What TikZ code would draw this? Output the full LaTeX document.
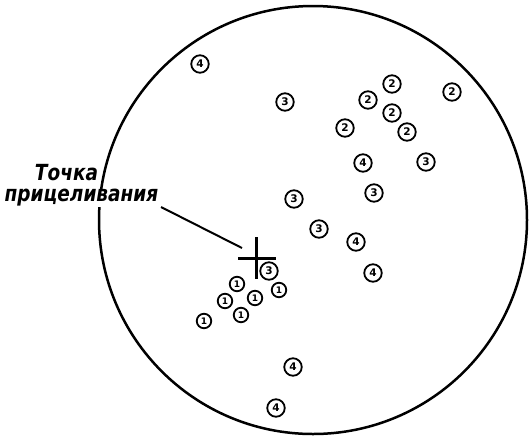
\documentclass[tikz,border=0pt]{standalone}
\usepackage{fontspec}
\newfontfamily\labfont{DejaVu Sans}
\newfontfamily\digfont{DejaVu Sans}
\tikzset{
  mk/.style={circle, draw, line width=1.8pt, minimum size=17.5pt, inner sep=0pt,
    font=\digfont\bfseries\fontsize{10.5}{10.5}\selectfont},
  mkone/.style={mk, minimum size=14.5pt, font=\digfont\bfseries\fontsize{9}{9}\selectfont},
  lab/.style={inner sep=0pt, font=\labfont\bfseries\itshape\fontsize{18.5}{20}\selectfont},
  rim/.style={line width=2.5pt},
  thin/.style={line width=2pt},
  crossline/.style={line width=3pt}
}
\begin{document}
\begin{tikzpicture}[x=1pt,y=-1pt]
\useasboundingbox (0,0) rectangle (532,445);
% target outline
\node[circle, draw, rim, minimum size=428pt, inner sep=0pt] (target) at (313,220) {};
% label
\node[lab] (l1) at (66.5,173) {\scalebox{1}[1.2]{Точка}};
\node[lab, fill=white] (l2) at (81.5,198) {\scalebox{1}[1.2]{прицеливания}};
% aiming point cross
\coordinate (aim) at (256,258);
\coordinate (vtop) at (256,237);
\coordinate (vbot) at (256,279);
\coordinate (hl) at (238,258);
\coordinate (hr) at (276,258);
\draw[crossline] (vtop) -- (vbot);
\draw[crossline] (hl) -- (hr);
\coordinate (lstart) at (161,207);
\coordinate (lend) at (242,248);
\draw[thin] (lstart) -- (lend);
% impacts
\node[mk] (a1) at (200,64) {4};
\node[mk] (a2) at (285,102) {3};
\node[mk] (a3) at (392,84) {2};
\node[mk] (a4) at (452,92) {2};
\node[mk] (a5) at (368,100) {2};
\node[mk] (a6) at (392,113) {2};
\node[mk] (a7) at (345,128) {2};
\node[mk] (a8) at (407,132) {2};
\node[mk] (a9) at (363,163) {4};
\node[mk] (a10) at (426,162) {3};
\node[mk] (a11) at (374,193) {3};
\node[mk] (a12) at (294,199) {3};
\node[mk] (a13) at (319,229) {3};
\node[mk] (a14) at (356,242) {4};
\node[mk] (a15) at (373,273) {4};
\node[mk] (a16) at (269,271) {3};
\node[mkone] (b1) at (237,284) {1};
\node[mkone] (b2) at (279,290) {1};
\node[mkone] (b3) at (225,301) {1};
\node[mkone] (b4) at (255,298) {1};
\node[mkone] (b5) at (241,315) {1};
\node[mkone] (b6) at (204,321) {1};
\node[mk] (a17) at (293,367) {4};
\node[mk] (a18) at (276,408) {4};
\end{tikzpicture}
\end{document}
